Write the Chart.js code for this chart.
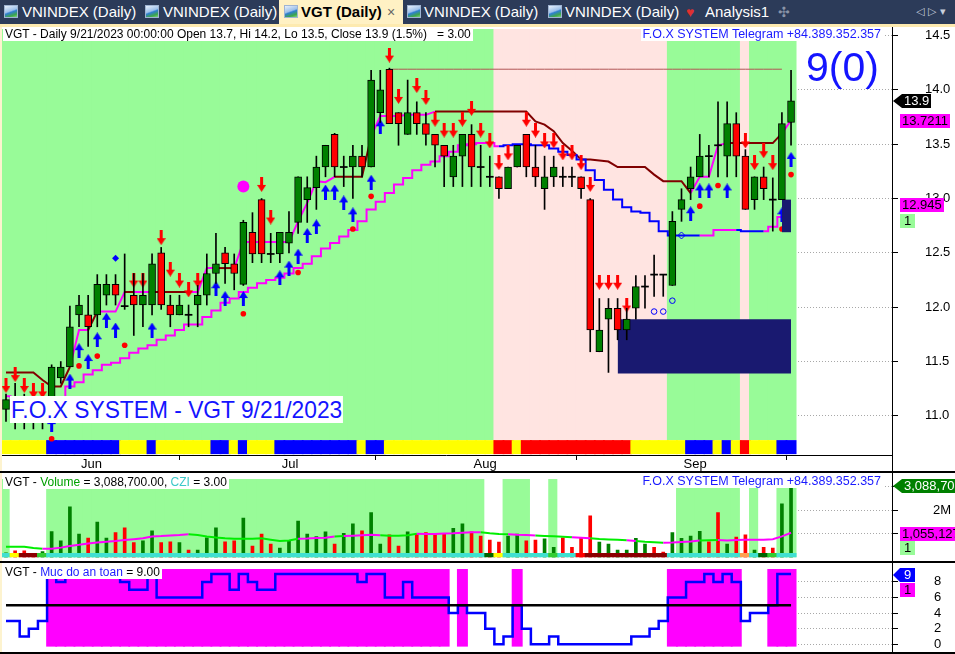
<!DOCTYPE html>
<html><head><meta charset="utf-8">
<script src="https://cdn.jsdelivr.net/npm/chart.js@4.4.1/dist/chart.umd.min.js"></script>
<style>
html,body{margin:0;padding:0;background:#fff;width:955px;height:654px;overflow:hidden;font-family:"Liberation Sans",Arial,sans-serif;}
#tabs{position:absolute;left:0;top:0;width:955px;height:24px;background:#2c3b59;}
#band{position:absolute;left:0;top:24px;width:955px;height:3px;background:#fdeab0;}
#lborder{position:absolute;left:0;top:27px;width:2px;height:627px;background:#fdf3cf;z-index:3;}
.tab{position:absolute;top:0;height:24px;line-height:24px;font-size:15px;color:#fff;white-space:nowrap;}
.tab.active{background:#fff1c4;color:#000;font-weight:bold;}
.ic{position:absolute;top:5px;width:14px;height:13px;background:linear-gradient(160deg,#e8f0fb 0%,#9cc0ea 45%,#2f7fd0 55%,#3ea64a 80%,#7bd37b 100%);border:1px solid #9fb4d2;box-sizing:border-box;}
.tt{position:absolute;top:0;}
canvas{position:absolute;left:0;}
.ov{position:absolute;white-space:pre;z-index:5;}
.tag{position:absolute;z-index:6;font-size:13px;line-height:14px;height:14px;padding:0 2px;white-space:nowrap;}
.tri{position:absolute;z-index:6;width:0;height:0;border-top:7px solid transparent;border-bottom:7px solid transparent;}
.hl{position:absolute;background:#000;z-index:4;}
</style></head>
<body>
<div id="tabs">
  <div class="tab" style="left:0;width:140px"><span class="ic" style="left:4px"></span><span class="tt" style="left:22px">VNINDEX (Daily)</span></div>
  <div class="tab" style="left:141px;width:138px"><span class="ic" style="left:4px"></span><span class="tt" style="left:22px">VNINDEX (Daily)</span></div>
  <div class="tab active" style="left:279px;width:124px"><span class="ic" style="left:5px"></span><span class="tt" style="left:22px">VGT (Daily)</span><span class="tt" style="left:108px;font-weight:normal;color:#666;font-size:14px">×</span></div>
  <div class="tab" style="left:404px;width:140px"><span class="ic" style="left:3px"></span><span class="tt" style="left:20px">VNINDEX (Daily)</span></div>
  <div class="tab" style="left:545px;width:138px"><span class="ic" style="left:3px"></span><span class="tt" style="left:20px">VNINDEX (Daily)</span></div>
  <div class="tab" style="left:684px;width:90px"><span class="tt" style="left:2px;color:#e03030;font-size:14px">♥</span><span class="tt" style="left:21px">Analysis1</span></div>
  <div class="tab" style="left:776px;width:20px"><span class="tt" style="left:2px;color:#8a94a8;font-size:14px">✣</span></div>
  <div class="tab" style="left:916px;width:38px"><span class="tt" style="left:0;color:#c8cfdc;font-size:11px;font-family:'DejaVu Sans'">◁ ▷ ▾</span></div>
</div>
<div id="band"></div>
<div id="lborder"></div>

<canvas id="c1" width="955" height="444" style="top:27px"></canvas>
<canvas id="c2" width="955" height="88" style="top:472px"></canvas>
<canvas id="c3" width="955" height="89" style="top:563px"></canvas>

<div class="hl" style="left:0;top:471px;width:955px;height:2px"></div>
<div class="hl" style="left:0;top:561px;width:955px;height:2px"></div>
<div class="hl" style="left:0;top:652px;width:955px;height:2px"></div>
<div class="hl" style="left:892px;top:27px;width:1px;height:627px"></div>

<div class="ov" style="left:3px;top:28px;background:#fff;font-size:12px;line-height:13px;padding:0 2px">VGT - Daily 9/21/2023 00:00:00 Open 13.7, Hi 14.2, Lo 13.5, Close 13.9 (1.5%)   = 3.00</div>
<div class="ov" style="right:72px;top:28px;background:#fff;font-size:12.5px;line-height:13px;color:#1a1aff;padding:0 2px">F.O.X SYSTEM Telegram +84.389.352.357</div>
<div class="ov" style="left:806px;top:44px;font-size:41px;line-height:46px;color:#1414ff">9(0)</div>
<div class="ov" style="left:10px;top:396px;background:#fff;font-size:24.5px;line-height:27px;color:#1414ff;padding:0 1px;transform:scaleX(0.93);transform-origin:0 0">F.O.X SYSTEM - VGT 9/21/2023</div>

<div class="ov" style="left:3px;top:476px;background:#fff;font-size:12px;line-height:13px;padding:0 2px">VGT - <span style="color:#00a000">Volume</span> = 3,088,700.00, <span style="color:#3cc8c8">CZI</span> = 3.00</div>
<div class="ov" style="right:72px;top:475px;background:#fff;font-size:12.5px;line-height:13px;color:#1a1aff;padding:0 2px">F.O.X SYSTEM Telegram +84.389.352.357</div>
<div class="ov" style="left:3px;top:566px;background:#fff;font-size:12px;line-height:13px;padding:0 2px">VGT - <span style="color:#1a1aff">Muc do an toan</span> = 9.00</div>

<div class="tri" style="left:893px;top:94px;border-right:9px solid #000"></div>
<div class="tag" style="left:902px;top:94px;background:#000;color:#fff">13.9</div>
<div class="tag" style="left:900px;top:114px;background:#ff00ff;color:#000">13.7211</div>
<div class="tag" style="left:900px;top:198px;background:#ff00ff;color:#000">12.945</div>
<div class="tag" style="left:900px;top:214px;background:#98fb98;color:#000;padding:0 4px">1</div>

<div class="tri" style="left:893px;top:479px;border-right:9px solid #008000"></div>
<div class="tag" style="left:902px;top:479px;background:#008000;color:#fff">3,088,700</div>
<div class="tag" style="left:900px;top:527px;background:#ff00ff;color:#000">1,055,127</div>
<div class="tag" style="left:900px;top:541px;background:#98fb98;color:#000;padding:0 4px">1</div>

<div class="tri" style="left:893px;top:568px;border-right:7px solid #0000ff"></div>
<div class="tag" style="left:900px;top:568px;background:#0000ff;color:#fff;padding:0 4px">9</div>
<div class="tag" style="left:900px;top:583px;background:#ff00ff;color:#000;padding:0 4px">1</div>

<script>
// ---------------- DATA ----------------
const dates = ['5/22','5/23','5/24','5/25','5/26','5/29','5/30','5/31',
 '6/1','6/2','6/5','6/6','6/7','6/8','6/9','6/12','6/13','6/14','6/15','6/16','6/19','6/20','6/21','6/22','6/23','6/26','6/27','6/28','6/29','6/30',
 '7/3','7/4','7/5','7/6','7/7','7/10','7/11','7/12','7/13','7/14','7/17','7/18','7/19','7/20','7/21','7/24','7/25','7/26','7/27','7/28','7/31',
 '8/1','8/2','8/3','8/4','8/7','8/8','8/9','8/10','8/11','8/14','8/15','8/16','8/17','8/18','8/21','8/22','8/23','8/24','8/25','8/28','8/29','8/30','8/31',
 '9/5','9/6','9/7','9/8','9/11','9/12','9/13','9/14','9/15','9/18','9/19','9/20','9/21'];
const monthLabels = ['Jun','Jul','Aug','Sep'];

const open = [11.06,11.15,11.10,11.05,11.05,11.10,11.35,11.45,11.93,11.93,
 11.93,12.11,12.21,12.01,12.11,12.02,12.02,12.50,12.02,11.93,
 11.93,12.02,12.11,12.31,12.50,12.40,12.21,12.69,12.99,12.49,
 12.49,12.59,12.78,12.99,13.10,13.29,13.59,13.29,13.29,13.39,
 13.29,13.79,14.19,13.79,13.59,13.79,13.69,13.59,13.49,13.20,
 13.39,13.59,13.29,13.20,13.20,13.09,13.29,13.59,13.29,13.09,
 13.20,13.20,13.20,13.20,12.99,11.59,11.89,11.99,11.79,11.99,
 12.19,12.30,12.30,12.20,12.90,13.09,13.20,13.39,13.49,13.39,
 13.69,13.39,12.99,13.20,12.99,12.99,13.70];
const high = [11.20,11.30,11.20,11.15,11.15,11.47,11.50,12.01,12.11,12.11,
 12.30,12.30,12.30,12.49,12.31,12.31,12.49,12.55,12.11,12.11,
 12.02,12.20,12.49,12.68,12.55,12.49,12.80,12.87,13.00,12.68,
 12.69,12.88,13.20,13.20,13.39,13.49,13.60,13.39,13.49,13.49,
 14.18,14.18,14.20,13.79,14.09,13.89,13.79,13.59,13.49,13.49,
 13.59,13.68,13.49,13.39,13.20,13.29,13.49,13.59,13.49,13.39,
 13.39,13.29,13.29,13.20,13.00,12.08,12.08,12.08,11.99,12.29,
 12.29,12.48,12.30,12.88,13.09,13.29,13.59,13.49,13.89,13.89,
 13.79,13.45,13.20,13.29,13.19,13.79,14.18];
const low = [10.95,10.88,10.88,10.88,10.88,11.00,11.30,11.45,11.82,11.64,
 11.82,12.02,12.02,11.98,11.74,11.82,11.93,11.98,11.82,11.93,
 11.82,11.82,12.02,12.22,12.22,12.16,12.20,12.41,12.41,12.41,
 12.41,12.50,12.68,12.78,12.90,13.20,13.20,13.11,13.00,13.20,
 13.29,13.70,13.69,13.49,13.59,13.59,13.49,13.29,13.11,13.11,
 13.11,13.11,13.11,13.11,13.00,13.09,13.29,13.20,13.11,12.90,
 13.11,13.11,13.11,13.00,11.59,11.59,11.40,11.70,11.70,11.89,
 11.99,12.10,12.10,12.20,12.79,12.99,13.20,13.20,13.20,13.20,
 13.20,12.90,12.90,12.99,12.70,12.99,13.49];
const close = [11.15,11.08,11.05,11.02,11.00,11.45,11.45,11.82,12.02,11.82,
 12.21,12.21,12.11,12.01,12.02,12.11,12.40,12.02,11.93,12.02,
 11.93,12.11,12.31,12.40,12.40,12.31,12.78,12.49,12.49,12.49,
 12.69,12.69,13.20,13.10,13.29,13.49,13.29,13.29,13.39,13.29,
 14.09,14.00,13.69,13.69,13.79,13.69,13.59,13.49,13.39,13.39,
 13.59,13.29,13.29,13.20,13.09,13.29,13.49,13.29,13.20,13.20,
 13.29,13.20,13.20,13.09,11.79,11.79,11.99,11.79,11.89,12.19,
 12.19,12.30,12.30,12.79,12.99,13.20,13.39,13.39,13.49,13.69,
 13.39,12.90,13.20,13.09,12.99,13.69,13.90];

// long trailing stop (stepped)
const trailLong = [11.18,11.16,11.16,11.16,11.16,11.16,11.17,11.27,11.31,11.38,
 11.42,11.47,11.49,11.53,11.58,11.62,11.65,11.70,11.74,11.79,
 11.84,11.84,11.91,11.97,12.04,12.08,12.14,12.18,12.22,12.25,
 12.27,12.31,12.36,12.40,12.47,12.54,12.59,12.65,12.71,12.79,
 12.90,12.97,13.05,13.13,13.19,13.26,13.31,13.34,13.39,13.43,
 13.49,13.50,13.51,13.51,13.48,13.49,13.50,13.50,13.49,13.49,
 13.46,13.43,13.40,13.36,13.26,13.17,13.08,12.99,12.92,12.88,
 12.87,12.79,12.70,12.66,12.66,12.66,12.66,12.66,12.71,12.71,
 12.71,12.70,12.70,12.70,12.74,12.83,12.945];
const trailLongState = [[0,53,'up'],[54,75,'down'],[76,79,'up'],[80,82,'down'],[83,86,'up']];
// short trailing stop
const trailShort = [11.40,11.40,11.40,11.40,11.33,11.27,11.27,11.45,11.79,11.79,
 11.96,11.96,11.96,12.14,12.14,12.14,12.14,12.14,12.14,12.14,
 12.14,12.14,12.36,12.36,12.36,12.36,12.60,12.60,12.60,12.60,
 12.60,12.60,12.79,12.96,13.16,13.15,13.20,13.20,13.20,13.20,
 13.57,13.76,13.76,13.76,13.77,13.77,13.77,13.80,13.80,13.80,
 13.80,13.80,13.80,13.80,13.80,13.80,13.80,13.80,13.71,13.68,
 13.62,13.51,13.44,13.36,13.36,13.35,13.34,13.29,13.29,13.29,
 13.29,13.22,13.16,13.16,13.16,13.05,13.20,13.20,13.49,13.51,
 13.51,13.51,13.51,13.51,13.51,13.60,13.72];
const trailShortState = [[0,6,'dn'],[7,8,'up'],[9,9,'dn'],[10,12,'up'],[13,13,'dn'],[14,15,'up'],[16,19,'dn'],[20,22,'up'],[23,24,'dn'],[25,35,'up'],[36,39,'dn'],[40,46,'up'],[47,74,'dn'],[75,78,'up'],[79,84,'dn'],[85,86,'up']];
const resistance = {level:14.19, from:42, to:85};
const supplyZones = [{from:67, to:86, lo:11.39, hi:11.89},{from:85, to:86, lo:12.69, hi:12.99}];

const sellArrows = [[0,11.28],[1,11.38],[2,11.28],[3,11.23],[4,11.23],[14,12.25],[15,12.25],[17,12.64],[18,12.35],[19,12.25],[20,12.16],[21,12.25],[28,13.13],[29,12.83],
 [42,14.32],[43,13.94],[45,14.04],[46,13.93],[47,13.73],[48,13.63],[49,13.63],[50,13.73],[51,13.83],[52,13.63],[53,13.53],[54,13.33],[55,13.42],
 [57,13.73],[58,13.63],[59,13.53],[60,13.53],[61,13.42],[62,13.42],[63,13.33],[64,13.13],[65,12.23],[66,12.23],[67,12.23],[68,12.02],
 [81,13.53],[82,13.33],[83,13.44],[84,13.33]];
const buyArrows = [[5,10.92],[7,11.32],[8,11.60],[9,11.50],[10,11.70],[11,11.88],[12,11.79],[16,11.79],[23,12.17],[24,12.08],[26,12.08],
 [30,12.27],[31,12.36],[32,12.47],[33,12.66],[34,12.74],[35,13.06],[36,13.06],[37,12.96],[38,12.85],[40,13.15],[41,13.66],
 [75,12.86],[76,13.07],[77,13.07],[79,13.07],[85,12.85],[86,13.36]];
const redDots = [[5,10.79],[8,11.46],[10,11.55],[13,11.65],[26,11.94],[32,12.32],[38,12.72],[40,13.02],[76,12.93],[78,13.12],[85,12.72],[86,13.22]];
const blueDiamonds = [[12,12.45]];
const hollowCircles = [[71,11.96],[72,11.96],[73,12.06]];
const hollowDiamonds = [[74,12.66]];
const magentaDots = [[26,13.11]];

const priceZones = [[0,53,'bull'],[54,72,'bear'],[73,80,'bull'],[81,81,'bear'],[82,86,'bull']];
const trendStrip = [[0,4,'Y'],[5,12,'B'],[13,15,'Y'],[16,16,'B'],[17,22,'Y'],[23,24,'B'],[25,25,'Y'],[26,26,'B'],[27,29,'Y'],[30,38,'B'],[39,39,'Y'],[40,41,'B'],
 [42,53,'Y'],[54,55,'R'],[56,56,'Y'],[57,68,'R'],[69,74,'Y'],[75,77,'B'],[78,78,'Y'],[79,79,'B'],[80,80,'Y'],[81,81,'R'],[82,84,'Y'],[85,86,'B']];
const priceTicks = [11.0,11.5,12.0,12.5,13.0,13.5,14.0,14.5];

// volume pane
const volume = [0.20,0.28,0.28,0.14,0.25,1.10,0.71,2.16,1.00,0.83,
 1.51,0.83,1.06,1.26,0.63,0.71,1.13,0.63,0.67,0.63,
 0.32,0.32,0.84,1.26,0.67,0.71,1.68,0.49,1.00,0.57,
 0.40,0.71,1.55,1.00,0.89,1.09,0.57,1.03,1.43,1.14,
 1.91,0.57,0.96,0.49,1.09,1.00,1.06,1.00,1.00,1.24,
 1.43,1.09,0.91,0.74,0.66,0.91,1.00,0.71,0.74,0.79,
 0.43,0.84,0.43,0.82,1.77,0.66,0.57,0.32,0.32,0.82,
 0.57,0.43,0.23,1.06,0.82,0.91,1.11,0.67,1.91,0.57,
 0.87,0.96,0.32,0.43,0.40,2.28,3.0887].map(v => v * 1e6);
const volUp = 'GRRRGGGGGRGGRRRGGRRGRGGGRRGRRRGGGGGGRGGRGGRRGRRRRGGRRRRGGRRGGRRRRGGGGGGRRGGGGRRGRRGRRGG';
const volMA = [0.46,0.46,0.46,0.40,0.37,0.37,0.42,0.49,0.54,0.60,
 0.64,0.67,0.70,0.74,0.78,0.82,0.89,0.91,0.94,0.96,
 0.99,0.96,0.89,0.85,0.82,0.80,0.80,0.80,0.82,0.76,
 0.70,0.72,0.80,0.81,0.83,0.84,0.89,0.91,0.93,0.95,
 0.97,0.95,0.93,0.93,0.95,1.01,1.00,1.00,1.02,1.03,
 1.05,1.07,1.07,1.03,1.00,0.99,0.97,0.96,0.94,0.92,
 0.90,0.88,0.86,0.84,0.82,0.79,0.77,0.75,0.73,0.70,
 0.67,0.65,0.63,0.64,0.66,0.68,0.72,0.73,0.74,0.72,
 0.74,0.76,0.76,0.76,0.78,0.90,1.055].map(v => v * 1e6);
const volMAState = [[0,3,'g'],[4,19,'m'],[20,31,'g'],[32,35,'m'],[36,36,'g'],[37,40,'m'],[41,44,'g'],[45,51,'m'],[52,54,'g'],[55,57,'m'],[58,61,'g'],[62,63,'m'],[64,67,'g'],[68,68,'m'],[69,71,'g'],[72,75,'m'],[76,77,'g'],[78,86,'m']];
const volZones = [[0,0,'on'],[1,4,'off'],[5,52,'on'],[53,54,'off'],[55,57,'on'],[58,59,'off'],[60,60,'on'],[61,73,'off'],[74,80,'on'],[81,81,'off'],[82,82,'on'],[83,84,'off'],[85,86,'on']];
const volStrip = [[0,0,'c'],[1,1,'y'],[2,3,'d'],[4,4,'g'],[5,52,'c'],[53,53,'k'],[54,54,'y'],[55,59,'c'],[60,60,'g'],[61,62,'c'],[63,63,'r'],[64,72,'d'],[73,80,'c'],[81,81,'o'],[82,82,'c'],[83,83,'k'],[84,84,'g'],[85,86,'c']];
const volTicks = [1e6,2e6,3e6];
const volTickLabels = ['','2M',''];

// safety pane
const safety = [3,3,1,2,3,9,8,9,9,9, 9,9,9,8,7,7,9,6,6,6, 6,6,8,9,9,7,9,8,7,7,
 9,9,9,9,9,9,9,9,9,8, 9,9,6,6,8,6,6,6,6,4, 5,4,4,2,0,1,5,2,0,0,
 1,0,0,0,0,0,0,0,0,1, 1,2,3,6,6,8,8,9,8,9, 8,3,4,4,5,9,9];
const safetyZones = [[5,48],[50,50],[56,56],[73,80],[84,86]];
const safetyThreshold = 5;
const safetyTicks = [0,2,4,6,8];

// ---------------- HELPERS ----------------
const N = dates.length;
const idx = dates.map((_, i) => i);
const monthIdx = monthLabels.map((_, m) => dates.findIndex(d => d.startsWith((m + 6) + '/')));
function expand(ranges) { const o = new Array(N).fill(null); ranges.forEach(([a, b, v]) => { for (let i = a; i <= b; i++) o[i] = v; }); return o; }
const pts = arr => arr.map(([x, y]) => ({x, y}));

const FONT = '"Liberation Sans", Arial, sans-serif';
Chart.defaults.font.family = FONT;
Chart.defaults.color = '#000';
Chart.defaults.animation = false;
Chart.defaults.responsive = false;
Chart.defaults.plugins.legend.display = false;
Chart.defaults.plugins.tooltip.enabled = false;

const C = {bull:'#98fb98', bear:'#ffe4e1', Y:'#ffff00', B:'#0000ff', R:'#ff0000',
  up:'#008000', dn:'#ff0000', navy:'#191970', magenta:'#ff00ff', maroon:'#800000', blue:'#0000ff'};

function arrowImg(color, down) {
  const c = document.createElement('canvas'); c.width = 9; c.height = 15;
  const g = c.getContext('2d'); g.fillStyle = color;
  if (down) { g.fillRect(3, 0, 3, 9); g.beginPath(); g.moveTo(0, 8); g.lineTo(9, 8); g.lineTo(4.5, 15); g.closePath(); g.fill(); }
  else { g.fillRect(3, 6, 3, 9); g.beginPath(); g.moveTo(0, 7); g.lineTo(9, 7); g.lineTo(4.5, 0); g.closePath(); g.fill(); }
  return c;
}

const X_MIN = -0.657, X_MAX = 97.06;
function xScale(show) {
  return {
    type: 'linear', min: X_MIN, max: X_MAX, offset: false, display: show,
    afterBuildTicks: a => { a.ticks = monthIdx.map(v => ({value: v})); },
    ticks: {autoSkip: false, maxRotation: 0, minRotation: 0, align: 'start', labelOffset: 2, padding: -3,
      font: {size: 13}, color: '#000', callback: (v, i) => monthLabels[i]},
    grid: {drawOnChartArea: false, drawTicks: true, tickLength: 5, tickColor: '#000', color: '#000'},
    border: {display: true, color: '#000', width: 1},
    afterFit: a => { a.height = show ? 16 : 0; a.paddingLeft = 0; a.paddingRight = 0; a.paddingTop = 0; a.paddingBottom = 0; }
  };
}
function yScale(min, max, ticks, labelFn, pad) {
  return {
    position: 'right', min, max,
    afterBuildTicks: a => { a.ticks = ticks.map(v => ({value: v})); },
    ticks: {callback: labelFn, autoSkip: false, font: {size: 13}, color: '#000', padding: pad, crossAlign: 'near'},
    grid: {color: '#a8a8a8', drawTicks: true, tickLength: 6, tickColor: '#000'},
    border: {display: true, color: '#000', width: 1, dash: [1, 2]},
    afterFit: a => { a.width = 63; a.paddingTop = 0; a.paddingBottom = 0; a.paddingLeft = 0; a.paddingRight = 0; }
  };
}
const fullBar = {barPercentage: 1.2, categoryPercentage: 1, grouped: false, borderWidth: 0};

// ---------------- MAIN PANE ----------------
const P_MIN = 10.64, P_MAX = 14.56, ZONE_LO = 10.777, STRIP_LO = 10.648;
const zoneCol = expand(priceZones).map(z => C[z]);
const stripCol = expand(trendStrip).map(z => C[z]);
const longCol = expand(trailLongState).map(s => s === 'up' ? C.magenta : C.blue);
const shortCol = expand(trailShortState).map(s => s === 'up' ? C.magenta : C.maroon);
const isDoji = i => Math.abs(open[i] - close[i]) < 0.02;
const bodies = idx.map(i => isDoji(i) ? [close[i] - 0.005, close[i] + 0.005] : [open[i], close[i]]);
const bodyCol = idx.map(i => isDoji(i) ? '#000' : (close[i] > open[i] ? C.up : C.dn));
const wicks = idx.map(i => [low[i], high[i]]);
const resLine = idx.map(i => (i >= resistance.from && i <= resistance.to) ? resistance.level : null);

const zoneDatasets = [];
supplyZones.forEach(z => {
  zoneDatasets.push({type: 'line', data: idx.map(i => i >= z.from && i <= z.to ? z.hi : null), borderWidth: 0, pointRadius: 0,
    fill: '+1', backgroundColor: C.navy, order: 30});
  zoneDatasets.push({type: 'line', data: idx.map(i => i >= z.from && i <= z.to ? z.lo : null), borderWidth: 0, pointRadius: 0,
    fill: false, order: 30});
});

const marker = (data, style, extra) => Object.assign({type: 'line', data: pts(data), showLine: false, pointStyle: style, order: 40}, extra);

new Chart(document.getElementById('c1'), {
  type: 'bar',
  data: {labels: idx, datasets: [
    Object.assign({data: idx.map(() => [ZONE_LO, P_MAX]), backgroundColor: zoneCol, order: 100}, fullBar),
    Object.assign({data: idx.map(() => [STRIP_LO, ZONE_LO]), backgroundColor: stripCol, order: 99}, fullBar),
    {type: 'line', data: trailLong, borderWidth: 2, pointRadius: 0, stepped: 'middle', order: 50,
      segment: {borderColor: c => longCol[c.p0DataIndex]}, borderColor: C.magenta},
    {type: 'line', data: trailShort, borderWidth: 2, pointRadius: 0, order: 50,
      segment: {borderColor: c => shortCol[c.p0DataIndex]}, borderColor: C.maroon},
    {type: 'line', data: resLine, borderWidth: 1, borderColor: '#b25656', pointRadius: 0, order: 50},
    ...zoneDatasets,
    marker(sellArrows, arrowImg('#ff0000', true), {order: 45}),
    marker(buyArrows, arrowImg('#0000ff', false), {order: 35}),
    marker(redDots, 'circle', {pointRadius: 2.8, pointBackgroundColor: '#ff0000', pointBorderWidth: 0, order: 45}),
    marker(blueDiamonds, 'rectRot', {pointRadius: 3.5, pointBackgroundColor: '#0000ff', pointBorderWidth: 0}),
    marker(hollowCircles, 'circle', {pointRadius: 2.8, pointBackgroundColor: 'rgba(0,0,0,0)', pointBorderColor: '#0000ff', pointBorderWidth: 1}),
    marker(hollowDiamonds, 'rectRot', {pointRadius: 3.5, pointBackgroundColor: 'rgba(0,0,0,0)', pointBorderColor: '#0000ff', pointBorderWidth: 1}),
    marker(magentaDots, 'circle', {pointRadius: 6, pointBackgroundColor: '#ff00ff', pointBorderWidth: 0}),
    {data: wicks, backgroundColor: '#000', barThickness: 1, grouped: false, order: 20},
    {data: bodies, backgroundColor: bodyCol, borderColor: '#000', borderWidth: idx.map(i => isDoji(i) ? 0 : 1), borderSkipped: false, barThickness: 7, grouped: false, order: 10}
  ]},
  options: {
    layout: {padding: {top: 2, left: 0, right: 0, bottom: 0}, autoPadding: false},
    scales: {x: xScale(true), y: yScale(P_MIN, P_MAX, priceTicks, v => v.toFixed(1), 27)}
  }
});

// ---------------- VOLUME PANE ----------------
const V_MAX = 3.34e6, VSTRIP = 0.19e6;
const volZoneCol = expand(volZones).map(z => z === 'on' ? C.bull : '#ffffff');
const vsMap = {c:'#40e0d0', y:'#ffff00', d:'#8b0000', g:'#32cd32', k:'#006400', r:'#ff0000', o:'#ffa050'};
const volStripCol = expand(volStrip).map(z => vsMap[z]);
const maCol = expand(volMAState).map(s => s === 'g' ? '#00ee00' : C.magenta);
new Chart(document.getElementById('c2'), {
  type: 'bar',
  data: {labels: idx, datasets: [
    Object.assign({data: idx.map(() => [0, V_MAX]), backgroundColor: volZoneCol, order: 100}, fullBar),
    {data: volume, backgroundColor: idx.map(i => volUp[i] === 'G' ? C.up : C.dn), barThickness: 3, grouped: false, order: 60},
    Object.assign({data: idx.map(() => [0, VSTRIP]), backgroundColor: volStripCol, order: 20}, fullBar),
    {type: 'line', data: volMA, borderWidth: 2, pointRadius: 0, order: 10, borderColor: C.magenta,
      segment: {borderColor: c => maCol[c.p0DataIndex]}}
  ]},
  options: {
    layout: {padding: {top: 7, bottom: 2.5, left: 0, right: 0}, autoPadding: false},
    scales: {x: xScale(false), y: yScale(0, V_MAX, volTicks, (v, i) => volTickLabels[i], 35)}
  }
});

// ---------------- SAFETY PANE ----------------
const S_MIN = -0.99, S_MAX = 10.42, SZ_LO = -0.3, SZ_HI = 9.65;
const sz = new Array(N).fill(null); safetyZones.forEach(([a, b]) => { for (let i = a; i <= b; i++) sz[i] = [SZ_LO, SZ_HI]; });
new Chart(document.getElementById('c3'), {
  type: 'bar',
  data: {labels: idx, datasets: [
    Object.assign({data: idx.map(() => [S_MIN, S_MAX]), backgroundColor: '#ffffff', order: 101}, fullBar),
    Object.assign({data: sz, backgroundColor: C.magenta, order: 100}, fullBar),
    {type: 'line', data: safety, borderWidth: 2.5, borderColor: C.blue, pointRadius: 0, stepped: 'middle', order: 20},
    {type: 'line', data: idx.map(() => safetyThreshold), borderWidth: 2.5, borderColor: '#000', pointRadius: 0, order: 10}
  ]},
  options: {
    layout: {padding: {top: 0, bottom: 0, left: 0, right: 0}, autoPadding: false},
    scales: {x: xScale(false), y: yScale(S_MIN, S_MAX, safetyTicks, v => String(v), 36)}
  }
});
</script>
</body></html>
